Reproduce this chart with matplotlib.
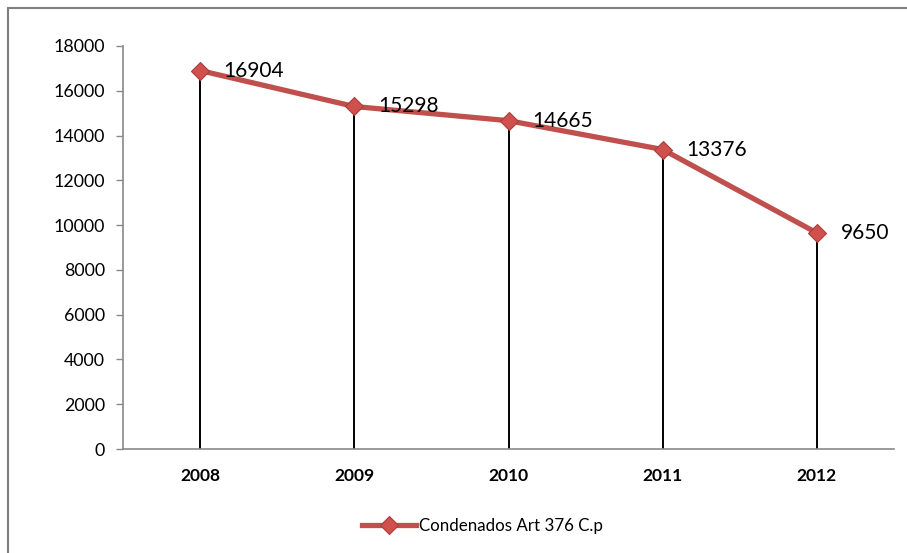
import matplotlib.pyplot as plt
from matplotlib.patches import Rectangle

# Convictions per year
years = ["2008", "2009", "2010", "2011", "2012"]
condenados = [16904, 15298, 14665, 13376, 9650]
series_name = "Condenados Art 376 C.p"

plt.rcParams["font.family"] = ["Lato", "DejaVu Sans"]

line_color = "#C0504D"
axis_color = "#898989"

fig = plt.figure(figsize=(9.07, 5.53), dpi=100)
ax = fig.add_axes([123 / 907, 1 - 449 / 553, (894 - 123) / 907, (449 - 46) / 553])

x = list(range(len(years)))

# Drop lines from each point down to the axis
ax.vlines(x, 0, condenados, color="black", linewidth=1.4, zorder=2)

ax.plot(x, condenados, color=line_color, linewidth=3.8, marker="D",
        markersize=9.5, markerfacecolor="#D0504D", markeredgecolor="#A83F3C",
        markeredgewidth=0.8, label=series_name, zorder=3)

for xi, v in zip(x, condenados):
    ax.annotate(str(v), (xi, v), xytext=(17, 0), textcoords="offset points",
                ha="left", va="center", fontsize=15, color="black", zorder=4)

ax.set_xlim(-0.5, len(years) - 0.5)
ax.set_ylim(0, 18000)
ax.set_yticks(range(0, 18001, 2000))
ax.set_xticks(x)
ax.set_xticklabels(years, fontweight="bold", fontsize=12.5)
ax.tick_params(axis="y", labelsize=12.8, length=5, width=1, color=axis_color, pad=8)
ax.tick_params(axis="x", length=0, pad=14)

for side in ["top", "right"]:
    ax.spines[side].set_visible(False)
for side in ["left", "bottom"]:
    ax.spines[side].set_color(axis_color)
    ax.spines[side].set_linewidth(1.2)

leg = ax.legend(loc="center", bbox_to_anchor=(0.466, -0.19), frameon=False,
                fontsize=12.2, handlelength=3.2, handletextpad=0.2)

# Chart border
fig.patches.append(Rectangle((8 / 907, -0.1), 1.2, 1 - 8 / 553 + 0.1,
                             transform=fig.transFigure, fill=False,
                             edgecolor="#7f7f7f", linewidth=1.5))

fig.savefig("out.png", dpi=100, facecolor="white")
